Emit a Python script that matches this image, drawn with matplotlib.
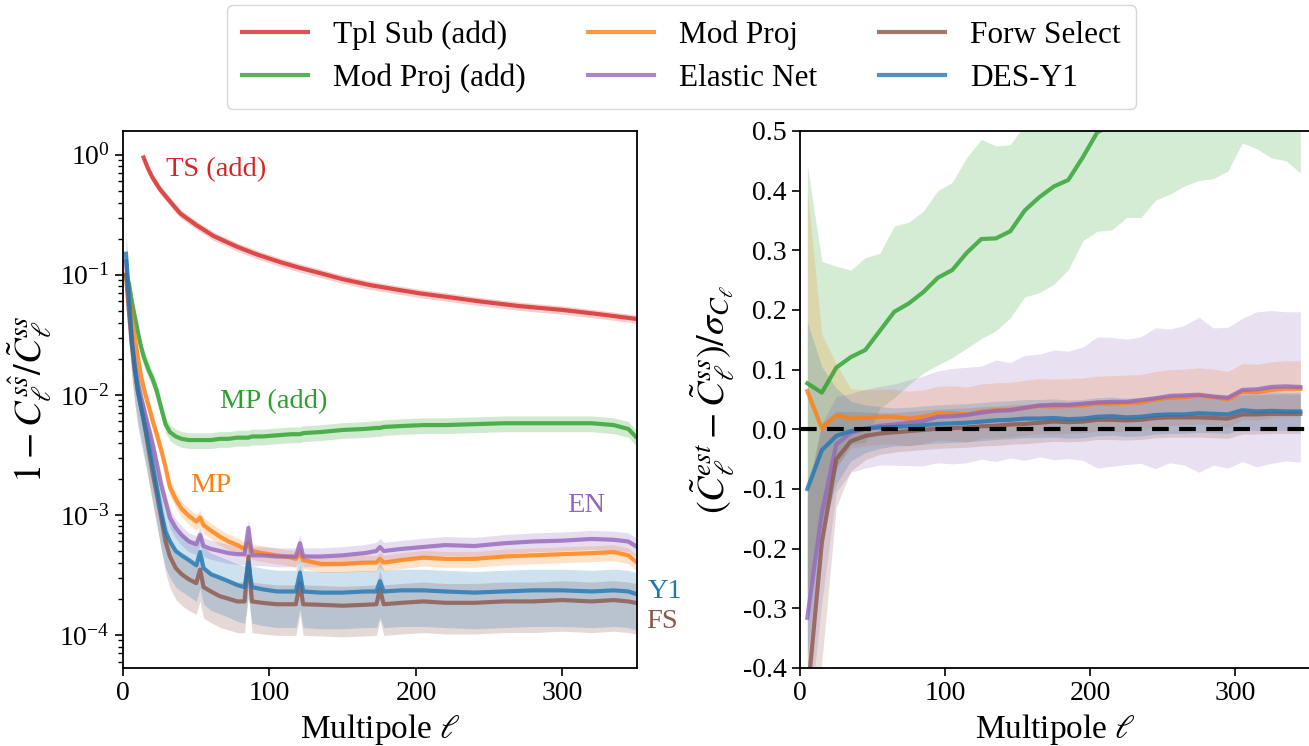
import matplotlib
matplotlib.use("Agg")
import matplotlib.pyplot as plt

plt.rcParams['font.family'] = ['Liberation Serif', 'DejaVu Serif']
plt.rcParams['mathtext.fontset'] = 'stix'
plt.rcParams['axes.unicode_minus'] = False

# ---- left panel: 1 - C^{s shat} / C^{ss} ----
ell_ts = [14, 17, 20, 25, 32, 39, 50, 62, 78, 92, 107, 120, 135, 150, 169, 185,
          203, 223, 244, 270, 300, 325, 350]
ts_add = [0.95, 0.77, 0.65, 0.52, 0.41, 0.325, 0.26, 0.21, 0.171, 0.147, 0.128,
          0.115, 0.103, 0.092, 0.082, 0.076, 0.070, 0.065, 0.060, 0.055, 0.051,
          0.047, 0.043]

ell_l = [2, 4, 6, 8, 10, 12, 14, 16, 18, 20, 23, 26, 29, 32, 36, 40, 45, 50, 52.6,
         55, 60, 66, 72, 78, 83, 85.6, 88, 95, 105, 115, 118, 120.8, 123, 135, 150,
         165, 173, 175.4, 178, 190, 205, 220, 240, 260, 280, 300, 320, 335, 345, 350]
mp_add = [0.10, 0.085, 0.06, 0.045, 0.034, 0.026, 0.021, 0.018, 0.0155, 0.0138,
          0.0108, 0.0078, 0.0057, 0.0049, 0.0045, 0.0043, 0.0042, 0.0042, 0.0042,
          0.0042, 0.0042, 0.0043, 0.0043, 0.0044, 0.0044, 0.0044, 0.0045, 0.0045,
          0.0046, 0.0047, 0.0047, 0.0047, 0.0048, 0.0049, 0.0051, 0.0052, 0.0053,
          0.0053, 0.0054, 0.0055, 0.0056, 0.0056, 0.0057, 0.0058, 0.0058, 0.0058,
          0.0058, 0.0056, 0.0052, 0.0045]
mp = [0.10, 0.07, 0.045, 0.03, 0.021, 0.015, 0.0115, 0.0093, 0.0077, 0.0062,
      0.0047, 0.0035, 0.0025, 0.0017, 0.00135, 0.00112, 0.00098, 0.00088, 0.00095,
      0.00082, 0.00074, 0.00066, 0.0006, 0.00056, 0.00052, 0.00058, 0.0005, 0.00048,
      0.00046, 0.00044, 0.00043, 0.00048, 0.00042, 0.00039, 0.00039, 0.0004, 0.0004,
      0.00043, 0.0004, 0.00042, 0.00044, 0.00043, 0.00043, 0.00045, 0.00046,
      0.00047, 0.00048, 0.00049, 0.00046, 0.00041]
en = [0.13, 0.06, 0.028, 0.018, 0.0125, 0.0095, 0.0078, 0.0062, 0.005, 0.004,
      0.0027, 0.0018, 0.0013, 0.00095, 0.00078, 0.00068, 0.0006, 0.00057, 0.00068,
      0.00055, 0.00052, 0.0005, 0.00048, 0.00047, 0.00047, 0.00078, 0.00046, 0.00046,
      0.00045, 0.00045, 0.00045, 0.00058, 0.00045, 0.00045, 0.00046, 0.00048, 0.0005,
      0.00054, 0.0005, 0.00052, 0.00054, 0.00056, 0.00055, 0.00058, 0.0006, 0.00061,
      0.00063, 0.00062, 0.0006, 0.00055]
y1 = [0.15, 0.07, 0.028, 0.017, 0.011, 0.0082, 0.0062, 0.0048, 0.0036, 0.0027,
      0.0017, 0.00105, 0.00072, 0.0006, 0.0005, 0.00046, 0.00042, 0.00038, 0.00049,
      0.00036, 0.00032, 0.0003, 0.00028, 0.00026, 0.00025, 0.0004, 0.00025, 0.00024,
      0.00023, 0.00023, 0.00023, 0.00033, 0.00023, 0.000225, 0.000225, 0.00023,
      0.00023, 0.00028, 0.00023, 0.000235, 0.000235, 0.00023, 0.000225, 0.00023,
      0.000235, 0.000235, 0.00023, 0.000235, 0.00023, 0.00022]
fs = [0.10, 0.05, 0.026, 0.016, 0.011, 0.0082, 0.0062, 0.0045, 0.0032, 0.0023,
      0.0015, 0.00095, 0.0006, 0.00045, 0.00036, 0.00032, 0.00029, 0.00027, 0.00035,
      0.00025, 0.00023, 0.00021, 0.0002, 0.00019, 0.00019, 0.00045, 0.00019, 0.000185,
      0.00018, 0.00018, 0.00018, 0.00027, 0.00018, 0.000178, 0.000175, 0.000178,
      0.00018, 0.00024, 0.00018, 0.000185, 0.00019, 0.000185, 0.000185, 0.00019,
      0.00019, 0.000195, 0.00019, 0.000195, 0.00019, 0.000185]
# relative 1-sigma width of the shaded bands
rel_err = {'ts': 0.08, 'mp_add': 0.15, 'mp': 0.15, 'en': 0.18, 'y1': 0.5, 'fs': 0.45}

# ---- right panel: (C_est - C_ss) / sigma ----
ell_r = [5, 15, 25, 35, 45, 55, 65, 75, 85, 95, 105, 115, 125, 135, 145, 155, 165,
         175, 185, 195, 205, 215, 225, 235, 245, 255, 265, 275, 285, 295, 305, 315,
         325, 335, 345]
mp_add_r = [0.077, 0.0615, 0.1035, 0.121, 0.133, 0.165, 0.197, 0.211, 0.230, 0.254,
            0.267, 0.296, 0.319, 0.320, 0.332, 0.367, 0.389, 0.407, 0.418, 0.456,
            0.498, 0.51, 0.53, 0.535, 0.56, 0.57, 0.585, 0.595, 0.60, 0.61, 0.655,
            0.65, 0.635, 0.63, 0.615]
mp_add_r_err = [0.366, 0.22, 0.17, 0.146, 0.155, 0.13, 0.144, 0.136, 0.136, 0.146,
                0.147, 0.16, 0.167, 0.155, 0.145, 0.145, 0.16, 0.164, 0.15, 0.14,
                0.166, 0.176, 0.175, 0.18, 0.176, 0.176, 0.177, 0.178, 0.18, 0.177,
                0.175, 0.18, 0.18, 0.18, 0.185]
mp_r = [0.064, 0.002, 0.0235, 0.018, 0.019, 0.021, 0.021, 0.018, 0.021, 0.027, 0.027,
        0.025, 0.030, 0.032, 0.033, 0.036, 0.039, 0.038, 0.039, 0.040, 0.043, 0.043,
        0.044, 0.045, 0.050, 0.053, 0.054, 0.056, 0.054, 0.050, 0.063, 0.062, 0.066,
        0.068, 0.068]
mp_r_err = [0.336, 0.157, 0.086, 0.05, 0.047, 0.046, 0.046, 0.046, 0.045, 0.045,
            0.046, 0.046, 0.046, 0.046, 0.046, 0.046, 0.046, 0.046, 0.046, 0.046,
            0.046, 0.047, 0.047, 0.047, 0.047, 0.047, 0.047, 0.047, 0.047, 0.047,
            0.047, 0.047, 0.047, 0.047, 0.047]
en_r = [-0.316, -0.14, -0.025, -0.006, 0.001, 0.006, 0.008, 0.011, 0.014, 0.021,
        0.022, 0.024, 0.028, 0.031, 0.032, 0.036, 0.040, 0.041, 0.041, 0.043, 0.045,
        0.046, 0.046, 0.049, 0.052, 0.056, 0.057, 0.058, 0.055, 0.053, 0.066, 0.067,
        0.071, 0.072, 0.071]
en_r_err = [0.2, 0.15, 0.08, 0.066, 0.066, 0.066, 0.068, 0.072, 0.075, 0.077, 0.08,
            0.08, 0.078, 0.085, 0.08, 0.088, 0.086, 0.092, 0.09, 0.095, 0.11, 0.108,
            0.105, 0.106, 0.118, 0.112, 0.117, 0.13, 0.115, 0.118, 0.12, 0.13, 0.128,
            0.125, 0.126]
fs_r = [-0.45, -0.19, -0.05, -0.02, -0.011, -0.007, -0.005, -0.003, -0.001, 0.001,
        0.002, 0.003, 0.005, 0.006, 0.008, 0.009, 0.011, 0.013, 0.012, 0.013, 0.016,
        0.016, 0.015, 0.016, 0.019, 0.020, 0.020, 0.020, 0.019, 0.018, 0.025, 0.025,
        0.026, 0.026, 0.026]
fs_r_err = [0.35, 0.2, 0.08, 0.05, 0.04, 0.035] + [0.033] * 29
y1_r = [-0.10, -0.035, -0.011, -0.003, 0.001, 0.003, 0.004, 0.005, 0.007, 0.009,
        0.010, 0.011, 0.013, 0.015, 0.016, 0.018, 0.018, 0.019, 0.017, 0.018, 0.021,
        0.022, 0.020, 0.021, 0.024, 0.025, 0.025, 0.027, 0.026, 0.025, 0.032, 0.030,
        0.031, 0.030, 0.030]
y1_r_err = [0.28, 0.14, 0.08, 0.05, 0.04, 0.035] + [0.032] * 29

labels = ['Tpl Sub (add)', 'Mod Proj (add)', 'Mod Proj', 'Elastic Net',
          'Forw Select', 'DES-Y1']
colors = ['tab:red', 'tab:green', 'tab:orange', 'tab:purple', 'tab:brown', 'tab:blue']

fig = plt.figure(figsize=(13.09, 7.46), dpi=100)
ax1 = fig.add_axes([0.094, 0.1046, 0.3927, 0.7198])
ax2 = fig.add_axes([0.6112, 0.1046, 0.3904, 0.7198])

lw = 3
left_series = [(ell_ts, ts_add, 'ts'), (ell_l, mp_add, 'mp_add'), (ell_l, mp, 'mp'),
               (ell_l, en, 'en'), (ell_l, fs, 'fs'), (ell_l, y1, 'y1')]
handles = []
for (x, y, key), c, lab in zip(left_series, colors, labels):
    r = rel_err[key]
    lo = [v * (1 - r) for v in y]
    hi = [v * (1 + r) for v in y]
    ax1.fill_between(x, lo, hi, color=c, alpha=0.22, lw=0)
    h, = ax1.plot(x, y, color=c, lw=lw, alpha=0.8, label=lab)
    handles.append(h)

ax1.set_yscale('log')
ax1.set_xlim(0, 351)
ax1.set_ylim(5.3e-5, 1.58)
ax1.set_xticks([0, 100, 200, 300])
ax1.set_xlabel(r'Multipole $\ell$', fontsize=24)
ax1.set_ylabel(r'$1 - C_\ell^{s\hat{s}}/\tilde{C}_\ell^{ss}$', fontsize=27.5)

txt = dict(fontsize=20.5, va='center', ha='left')
ax1.text(29, 0.75, 'TS (add)', color='tab:red', **txt)
ax1.text(66, 0.0088, 'MP (add)', color='tab:green', **txt)
ax1.text(46, 0.00175, 'MP', color='tab:orange', **txt)
ax1.text(303, 0.0012, 'EN', color='tab:purple', **txt)
ax1.text(358, 0.00023, 'Y1', color='tab:blue', clip_on=False, **txt)
ax1.text(357, 0.00013, 'FS', color='tab:brown', clip_on=False, **txt)

right_series = [(mp_add_r, mp_add_r_err), (mp_r, mp_r_err), (en_r, en_r_err),
                (fs_r, fs_r_err), (y1_r, y1_r_err)]
for (y, e), c in zip(right_series, colors[1:]):
    lo = [v - s for v, s in zip(y, e)]
    hi = [v + s for v, s in zip(y, e)]
    ax2.fill_between(ell_r, lo, hi, color=c, alpha=0.2, lw=0)
    ax2.plot(ell_r, y, color=c, lw=lw, alpha=0.8)
ax2.axhline(0, color='k', ls='--', lw=3, dashes=(4, 2.5))
ax2.set_xlim(0, 352.4)
ax2.set_ylim(-0.4, 0.5)
ax2.set_xticks([0, 100, 200, 300])
ax2.set_yticks([-0.4, -0.3, -0.2, -0.1, 0.0, 0.1, 0.2, 0.3, 0.4, 0.5])
ax2.set_xlabel(r'Multipole $\ell$', fontsize=24)
ax2.set_ylabel(r'$(\tilde{C}_\ell^{est} - \tilde{C}_\ell^{ss})/\sigma_{C_\ell}$',
               fontsize=27.5)

for ax in (ax1, ax2):
    ax.tick_params(labelsize=20, width=1.2, length=6)
    ax.tick_params(which='minor', width=1.0, length=3.5)
    for sp in ax.spines.values():
        sp.set_linewidth(1.3)

fig.legend(handles=handles, loc='upper center', bbox_to_anchor=(0.5206, 1.0),
           ncol=3, fontsize=22.5, handlelength=2.1, handletextpad=0.8,
           columnspacing=2.0, borderaxespad=0.15, labelspacing=0.45,
           borderpad=0.5, frameon=True, fancybox=True, edgecolor='#cccccc')

fig.savefig('out.png', dpi=100)
